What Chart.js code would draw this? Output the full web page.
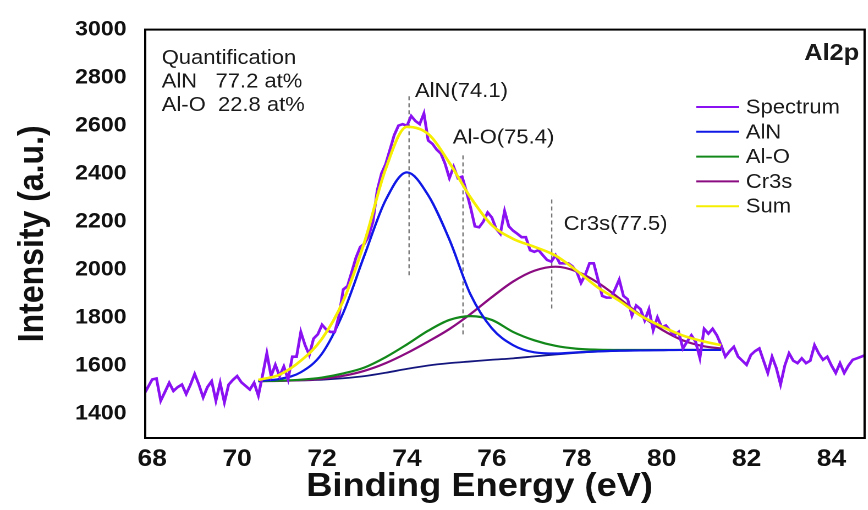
<!DOCTYPE html>
<html>
<head>
<meta charset="utf-8">
<script src="https://cdn.jsdelivr.net/npm/chart.js@4.4.0/dist/chart.umd.min.js"></script>
<style>
  html, body { margin: 0; padding: 0; background: #fff; overflow: hidden; }
  /* the source figure is stretched ~10% horizontally */
  #wrap { width: 789px; height: 510px; transform: scaleX(1.1); transform-origin: 0 0; }
</style>
</head>
<body>
<div id="wrap"><canvas id="xps" width="789" height="510"></canvas></div>
<script>
const FONT = "'Liberation Sans', Arial, sans-serif";

// measured spectrum, 0.1 eV steps starting at 67.8 eV
const spectrumStart = 67.8;
const spectrumCounts = [
  1478, 1510, 1542, 1546, 1453, 1490, 1528, 1494, 1510, 1521,
  1481, 1520, 1565, 1520, 1467, 1510, 1535, 1453, 1528, 1446,
  1520, 1540, 1556, 1530, 1515, 1500, 1528, 1474, 1560, 1651,
  1556, 1603, 1556, 1596, 1542, 1637, 1637, 1740, 1685, 1644,
  1712, 1730, 1770, 1750, 1740, 1740, 1808, 1917, 1931, 1990,
  2050, 2094, 2108, 2140, 2200, 2330, 2400, 2440, 2500, 2560,
  2600, 2606, 2599, 2640, 2619, 2606, 2651, 2538, 2524, 2500,
  2483, 2440, 2381, 2428, 2381, 2387, 2326, 2258, 2180, 2176,
  2200, 2238, 2217, 2170, 2149, 2244, 2180, 2162, 2149, 2135,
  2135, 2081, 2074, 2081, 2060, 2040, 2033, 2060, 2026, 2026,
  2026, 2013, 1990, 1944, 1978, 2026, 2026, 1958, 1890, 1883,
  1883, 1917, 1958, 1890, 1876, 1808, 1850, 1835, 1788, 1835,
  1747, 1801, 1760, 1767, 1745, 1726, 1740, 1671, 1700, 1726,
  1699, 1631, 1753, 1733, 1753, 1726, 1685, 1637, 1660, 1678,
  1637, 1620, 1603, 1644, 1660, 1671, 1620, 1569, 1637, 1590,
  1521, 1600, 1651, 1620, 1610, 1630, 1610, 1620, 1685, 1650,
  1624, 1637, 1600, 1569, 1610, 1569, 1600, 1624, 1630, 1637,
  1644
];
const spectrumEnergy = spectrumCounts.map((_, i) => +(spectrumStart + i * 0.1).toFixed(1));

// fitted components
const fitEnergy = [70.5, 71, 71.5, 72, 72.5, 73, 73.5, 74, 74.5, 75, 75.5, 76,
                   76.5, 77, 77.5, 78, 78.5, 79, 79.5, 80, 80.5, 81, 81.4];
const backgroundFit = [1535, 1536, 1538, 1541, 1547, 1556, 1570, 1586, 1600, 1610, 1617, 1624,
                       1630, 1638, 1646, 1653, 1658, 1661, 1663, 1664, 1665, 1665, 1665];
const alnFit = [1536, 1544, 1572, 1650, 1820, 2060, 2290, 2405, 2310, 2125, 1895, 1755,
                1685, 1655, 1650, 1655, 1659, 1662, 1663, 1664, 1665, 1665, 1665];
const aloFit = [1535, 1537, 1541, 1550, 1567, 1592, 1635, 1688, 1745, 1790, 1806, 1790,
                1740, 1705, 1682, 1670, 1666, 1665, 1665, 1665, 1665, 1665, 1665];
const cr3sFit = [1535, 1536, 1539, 1545, 1557, 1578, 1610, 1652, 1700, 1752, 1815, 1885,
                 1950, 1995, 2012, 1992, 1945, 1880, 1810, 1750, 1705, 1680, 1671];
const sumFit = [1540, 1562, 1620, 1712, 1870, 2115, 2420, 2595, 2565, 2445, 2300, 2185,
                2128, 2095, 2058, 1995, 1925, 1870, 1808, 1763, 1725, 1700, 1685];

// dashed peak markers
const markerEnergy = [74.05, 75.32, 77.41];
const markerTop = [2722, 2476, 2292];
const markerBottom = [1965, 1719, 1834];
const peakLabels = ['AlN(74.1)', 'Al-O(75.4)', 'Cr3s(77.5)'];
const peakLabelEnergy = [74.19, 75.08, 77.69];
const peakLabelLevel = [2743, 2548, 2188];

const quantLines = ['Quantification', 'AlN   77.2 at%', 'Al-O  22.8 at%'];

const xTicks = { min: 67.835, max: 84.78, step: 2 };
const yTicks = { min: 1298, max: 3000, step: 200 };

const pts = (xs, ys) => xs.map((x, i) => ({ x: x, y: ys[i] }));

const curve = (label, data, color, width, order) => ({
  label, data: pts(fitEnergy, data), borderColor: color, borderWidth: width,
  pointRadius: 0, cubicInterpolationMode: 'monotone', order
});

const datasets = [
  { label: 'Spectrum', data: pts(spectrumEnergy, spectrumCounts), borderColor: '#8a12f2',
    borderWidth: 2.6, pointRadius: 0, tension: 0, order: 1 },
  curve('AlN', alnFit, '#1018e6', 2.2, 2),
  curve('Al-O', aloFit, '#12881a', 2.2, 3),
  curve('Cr3s', cr3sFit, '#8a0c80', 2.2, 4),
  curve('Sum', sumFit, '#f5ee00', 2.6, 0),
  curve('Background', backgroundFit, '#14167e', 1.8, 5)
];
markerEnergy.forEach((e, i) => {
  datasets.push({
    label: 'marker' + i, data: [{ x: e, y: markerTop[i] }, { x: e, y: markerBottom[i] }],
    borderColor: '#777', borderWidth: 1.2, borderDash: [4, 3], pointRadius: 0, order: 6
  });
});
const legendNames = ['Spectrum', 'AlN', 'Al-O', 'Cr3s', 'Sum'];

const decorations = {
  id: 'decorations',
  afterDatasetsDraw(chart) {
    const { ctx, chartArea: a, scales: { x, y } } = chart;
    ctx.save();
    ctx.strokeStyle = '#000';
    ctx.lineWidth = 2;
    ctx.strokeRect(a.left, a.top, a.right - a.left, a.bottom - a.top);

    ctx.fillStyle = '#1a1a1a';
    ctx.textBaseline = 'middle';
    ctx.textAlign = 'left';
    ctx.font = '20px ' + FONT;
    quantLines.forEach((t, i) => ctx.fillText(t, a.left + 15, a.top + 29 + i * 23.5));

    peakLabels.forEach((t, i) => {
      ctx.fillText(t, x.getPixelForValue(peakLabelEnergy[i]), y.getPixelForValue(peakLabelLevel[i]));
    });

    ctx.font = 'bold 23px ' + FONT;
    ctx.textAlign = 'right';
    ctx.fillText('Al2p', a.right - 5, a.top + 24);

    ctx.textAlign = 'left';
    ctx.font = '20px ' + FONT;
    legendNames.forEach((name, i) => {
      const ds = chart.data.datasets.find(d => d.label === name);
      const ly = 107 + i * 24.8;
      ctx.strokeStyle = ds.borderColor;
      ctx.lineWidth = 2;
      ctx.beginPath();
      ctx.moveTo(a.right - 153, ly);
      ctx.lineTo(a.right - 114, ly);
      ctx.stroke();
      ctx.fillText(name, a.right - 108, ly + 1);
    });

    // x axis title sits a little left of the plot centre in the source
    ctx.fillStyle = '#111';
    ctx.textAlign = 'center';
    ctx.font = 'bold 33px ' + FONT;
    ctx.fillText('Binding Energy (eV)', 436, 487);
    ctx.restore();
  }
};

new Chart(document.getElementById('xps'), {
  type: 'line',
  data: { datasets },
  options: {
    responsive: false,
    devicePixelRatio: 2,
    animation: false,
    layout: { padding: { top: 22, right: 3, bottom: 0, left: 0 } },
    plugins: { legend: { display: false }, tooltip: { enabled: false } },
    scales: {
      x: {
        type: 'linear', min: xTicks.min, max: xTicks.max,
        grid: { display: false, drawTicks: false },
        border: { display: false },
        ticks: {
          stepSize: xTicks.step, includeBounds: false, autoSkip: false, maxRotation: 0,
          padding: 7, color: '#111', font: { family: FONT, size: 24, weight: 'bold' },
          callback: v => String(v)
        },
        title: { display: false },
        afterFit(s) { s.height = 72; }
      },
      y: {
        type: 'linear', min: yTicks.min, max: yTicks.max,
        grid: { display: false, drawTicks: false },
        border: { display: false },
        ticks: {
          stepSize: yTicks.step, includeBounds: false, padding: 17, color: '#111',
          font: { family: FONT, size: 21, weight: 'bold' },
          callback: v => String(v)
        },
        title: {
          display: true, text: 'Intensity (a.u.)', color: '#111',
          font: { family: FONT, size: 32, weight: 'bold' }, padding: { top: 11, bottom: 0 }
        },
        afterFit(s) { s.width = 132; }
      }
    }
  },
  plugins: [decorations]
});
</script>
</body>
</html>
